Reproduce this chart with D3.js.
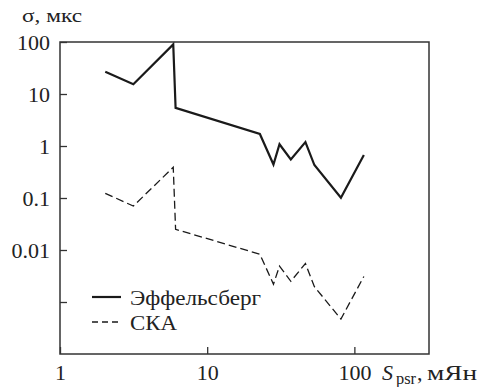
<!DOCTYPE html>
<html>
<head>
<meta charset="utf-8">
<script src="https://cdn.jsdelivr.net/npm/d3@7"></script>
<style>
  body { margin: 0; background: #fff; }
</style>
</head>
<body>
<div id="chart"></div>
<script>
// flux density, mJy
const sPsr = [2.03, 3.15, 5.88, 6.1, 22.8, 28.2, 31, 37, 46.5, 53.5, 81, 116];
// timing residual sigma, us
const effelsberg = [26.8, 15.4, 90, 5.4, 1.7, 0.44, 1.08, 0.55, 1.19, 0.43, 0.101, 0.67];
const ska = [0.123, 0.070, 0.39, 0.025, 0.0083, 0.0022, 0.0049, 0.0025, 0.0055, 0.00197, 0.00047, 0.0031];

const yTicks = [100, 10, 1, 0.1, 0.01, 0.001];
const yTickLabels = ['100', '10', '1', '0.1', '0.01', ''];
const xTicks = [1, 10, 100];

const serif = "Liberation Serif";
const width = 480, height = 387;
const margin = { top: 42, right: 51, bottom: 33, left: 60 };
const plotW = width - margin.left - margin.right;
const plotH = height - margin.top - margin.bottom;

const svg = d3.select('#chart').append('svg')
    .attr('width', width)
    .attr('height', height)
    .attr('font-family', serif);

const x = d3.scaleLog().domain([1, 10 ** 2.507]).range([0, plotW]);
const y = d3.scaleLog().domain([1e-4, 100]).range([plotH, 0]);

const g = svg.append('g')
    .attr('transform', `translate(${margin.left},${margin.top})`);

// frame
g.append('rect')
    .attr('width', plotW)
    .attr('height', plotH)
    .attr('fill', 'none')
    .attr('stroke', '#333')
    .attr('stroke-width', 1.5);

// y axis: ticks point inward
const yAxis = d3.axisLeft(y).tickValues(yTicks).tickSize(-7)
    .tickFormat((d, i) => yTickLabels[i]);
g.append('g').call(yAxis)
    .attr('font-family', serif)
    .call(s => s.select('.domain').remove())
    .call(s => s.selectAll('line').attr('stroke', '#333').attr('stroke-width', 1.3))
    .call(s => s.selectAll('text').attr('font-size', 22).attr('dy', '0.34em')
        .attr('x', -10).attr('fill', '#222'));

const xAxis = d3.axisBottom(x).tickValues(xTicks).tickSize(-7)
    .tickFormat(d3.format('d'));
g.append('g').attr('transform', `translate(0,${plotH})`).call(xAxis)
    .attr('font-family', serif)
    .call(s => s.select('.domain').remove())
    .call(s => s.selectAll('line').attr('stroke', '#333').attr('stroke-width', 1.3))
    .call(s => s.selectAll('text').attr('font-size', 22).attr('fill', '#222')
        .attr('y', 26).attr('dy', null));

const line = d3.line().x((d, i) => x(sPsr[i])).y(d => y(d));

g.append('path').datum(effelsberg)
    .attr('d', line)
    .attr('fill', 'none')
    .attr('stroke', '#1a1a1a')
    .attr('stroke-width', 2.2)
    .attr('stroke-linejoin', 'miter');

g.append('path').datum(ska)
    .attr('d', line)
    .attr('fill', 'none')
    .attr('stroke', '#1a1a1a')
    .attr('stroke-width', 1.3)
    .attr('stroke-dasharray', '8,4');

// legend
const legend = [
    { label: 'Эффельсберг', dash: null, w: 2.2, yy: 255, len: 131 },
    { label: 'СКА', dash: '6,4', w: 1.3, yy: 280, len: 47 }
];
const lg = g.selectAll('.legend').data(legend).enter().append('g').attr('class', 'legend');
lg.append('line')
    .attr('x1', 32).attr('x2', 61)
    .attr('y1', d => d.yy).attr('y2', d => d.yy)
    .attr('stroke', '#1a1a1a')
    .attr('stroke-width', d => d.w)
    .attr('stroke-dasharray', d => d.dash);
lg.append('text')
    .attr('x', 70).attr('y', d => d.yy + 8)
    .attr('font-size', 22)
    .attr('fill', '#222')
    .attr('textLength', d => d.len)
    .attr('lengthAdjust', 'spacingAndGlyphs')
    .text(d => d.label);

// axis titles
svg.append('text')
    .attr('x', 22).attr('y', 22)
    .attr('font-size', 19)
    .attr('fill', '#222')
    .attr('textLength', 60)
    .attr('lengthAdjust', 'spacingAndGlyphs')
    .text('σ, мкс');

svg.append('text')
    .attr('x', 382).attr('y', 380)
    .attr('font-size', 22).attr('font-style', 'italic')
    .attr('fill', '#222')
    .text('S');
svg.append('text')
    .attr('x', 396).attr('y', 384)
    .attr('font-size', 16)
    .attr('fill', '#222')
    .attr('textLength', 20)
    .attr('lengthAdjust', 'spacingAndGlyphs')
    .text('psr');
svg.append('text')
    .attr('x', 417).attr('y', 380)
    .attr('font-size', 22)
    .attr('fill', '#222')
    .text(',');
svg.append('text')
    .attr('x', 427).attr('y', 380)
    .attr('font-size', 22)
    .attr('fill', '#222')
    .attr('textLength', 50)
    .attr('lengthAdjust', 'spacingAndGlyphs')
    .text('мЯн');
</script>
</body>
</html>
